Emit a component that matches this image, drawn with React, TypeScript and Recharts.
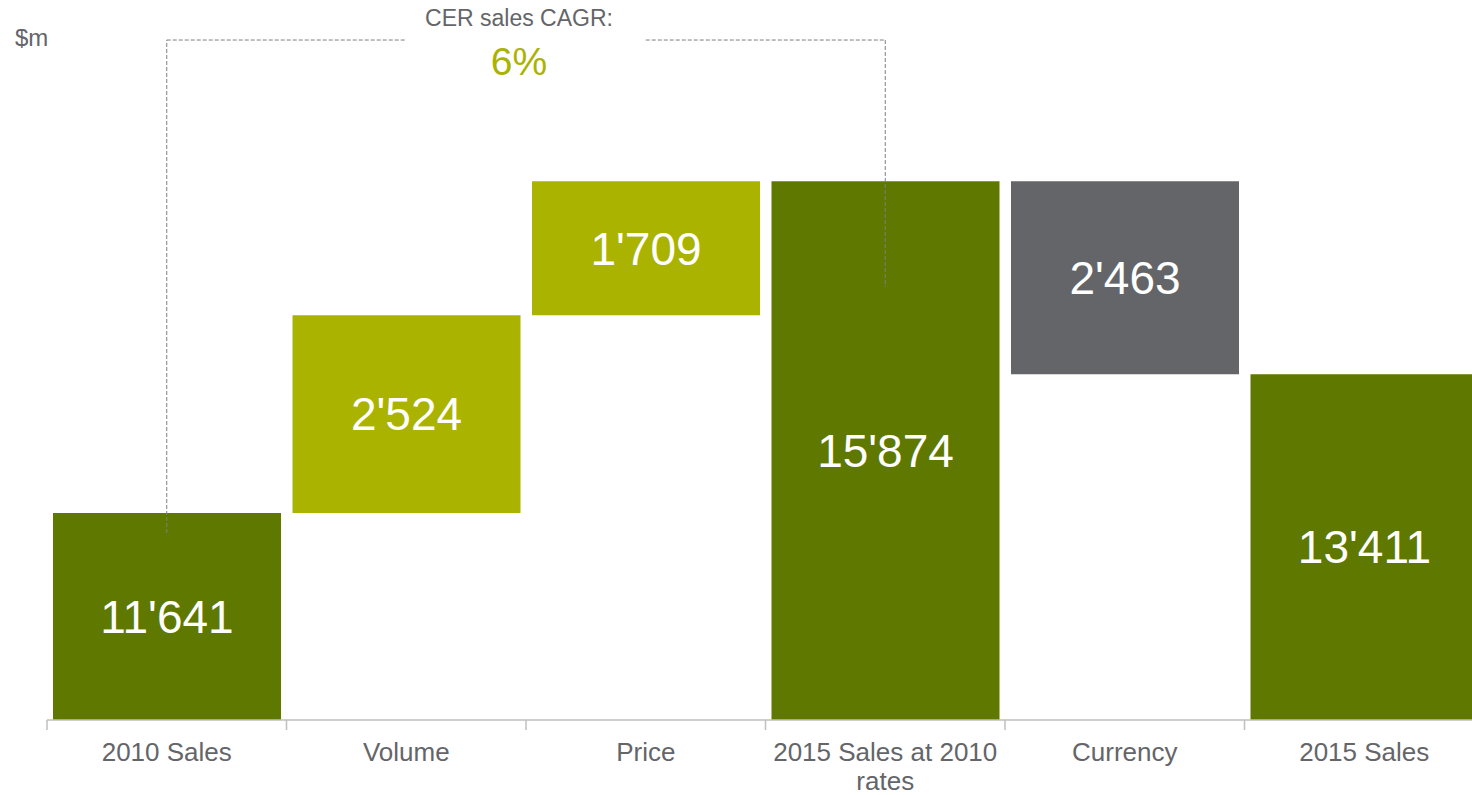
import { Bar, BarChart, Cell, LabelList, ReferenceLine, Text, XAxis, YAxis } from 'recharts';

const categories = ['2010 Sales', 'Volume', 'Price', '2015 Sales at 2010 rates', 'Currency', '2015 Sales'];
const barStarts = [0, 11641, 14165, 0, 13411, 0];
const barEnds = [11641, 14165, 15874, 15874, 15874, 13411];
const barAmounts = [11641, 2524, 1709, 15874, 2463, 13411];
const barKinds = ['total', 'increase', 'increase', 'total', 'decrease', 'total'];

// CAGR bracket: from the 2010 bar over to the 2015-at-2010-rates bar
const bracketTop = 17676;
const bracketLeftEnd = 11386;
const bracketRightEnd = 14525;
const cagrTitle = 'CER sales CAGR:';
const cagrValue = '6%';
const unitLabel = '$m';

const kindColors: Record<string, string> = {
  total: '#5f7800',
  increase: '#aab400',
  decrease: '#646569',
};

const FONT = '"Liberation Sans", Arial, Helvetica, sans-serif';
const GREY = '#646569';
const AXIS = '#bfbfbf';
const DASH = '#7f7f7f';
const TICK_SIZE = 10;
const TICK_MARGIN = 13;

// totals stand on the axis baseline (axis does not start at zero), steps float
const data = categories.map((name, i) => ({
  name,
  range: barKinds[i] === 'total' && barStarts[i] === 0 ? barEnds[i] : [barStarts[i], barEnds[i]],
  amount: barAmounts[i],
  kind: barKinds[i],
}));

const fmt = (v: any) => String(v).replace(/\B(?=(\d{3})+(?!\d))/g, "'");

// label plus a tick mark on the left edge of each category band
function CategoryTick({ x, y, payload }: any) {
  const edge = x - (payload.offset ?? 0);
  const axisY = y - TICK_SIZE - TICK_MARGIN;
  return (
    <g>
      <line x1={edge} x2={edge} y1={axisY} y2={axisY + TICK_SIZE} stroke={AXIS} strokeWidth={1.5} />
      <Text
        x={x}
        y={y}
        width={232}
        textAnchor="middle"
        verticalAnchor="start"
        lineHeight={29}
        fontSize={26}
        fill={GREY}
        style={{ fontSize: '26px', fontFamily: FONT }}
      >
        {payload.value}
      </Text>
    </g>
  );
}

export default function App() {
  return (
    <div
      style={{
        position: 'absolute',
        left: 0,
        top: 0,
        width: 1472,
        height: 795,
        overflow: 'hidden',
        background: '#fff',
        fontFamily: FONT,
      }}
    >
      <BarChart
        width={1500}
        height={795}
        data={data}
        margin={{ top: 93, right: 16, bottom: 0, left: 47 }}
        barCategoryGap={6}
        style={{ fontFamily: FONT }}
      >
        <XAxis
          dataKey="name"
          height={75}
          tickSize={TICK_SIZE}
          tickMargin={TICK_MARGIN}
          interval={0}
          axisLine={{ stroke: AXIS, strokeWidth: 1.5 }}
          tickLine={false}
          tick={<CategoryTick />}
        />
        <YAxis hide domain={[9000, 17000]} allowDataOverflow />
        <Bar dataKey="range" isAnimationActive={false}>
          {data.map((d) => (
            <Cell key={d.name} fill={kindColors[d.kind]} />
          ))}
          <LabelList
            dataKey="amount"
            position="center"
            fill="#ffffff"
            fontSize={46}
            formatter={fmt}
            style={{ fontFamily: FONT }}
          />
        </Bar>
        <ReferenceLine
          ifOverflow="visible"
          stroke={DASH}
          strokeDasharray="4 2"
          segment={[
            { x: categories[0], y: bracketLeftEnd },
            { x: categories[0], y: bracketTop },
          ]}
        />
        <ReferenceLine
          ifOverflow="visible"
          stroke={DASH}
          strokeDasharray="4 2"
          segment={[
            { x: categories[0], y: bracketTop },
            { x: categories[1], y: bracketTop },
          ]}
        />
        <ReferenceLine
          ifOverflow="visible"
          stroke={DASH}
          strokeDasharray="4 2"
          segment={[
            { x: categories[2], y: bracketTop },
            { x: categories[3], y: bracketTop },
          ]}
        />
        <ReferenceLine
          ifOverflow="visible"
          stroke={DASH}
          strokeDasharray="4 2"
          segment={[
            { x: categories[3], y: bracketTop },
            { x: categories[3], y: bracketRightEnd },
          ]}
        />
      </BarChart>
      <svg
        width={1472}
        height={795}
        style={{ position: 'absolute', left: 0, top: 0, pointerEvents: 'none', fontFamily: FONT }}
      >
        <text x={15} y={46} fontSize={24} fill={GREY}>
          {unitLabel}
        </text>
        <text x={519} y={26} fontSize={23} fill={GREY} textAnchor="middle">
          {cagrTitle}
        </text>
        <text x={519} y={75} fontSize={39} fill="#aab400" textAnchor="middle">
          {cagrValue}
        </text>
      </svg>
    </div>
  );
}
